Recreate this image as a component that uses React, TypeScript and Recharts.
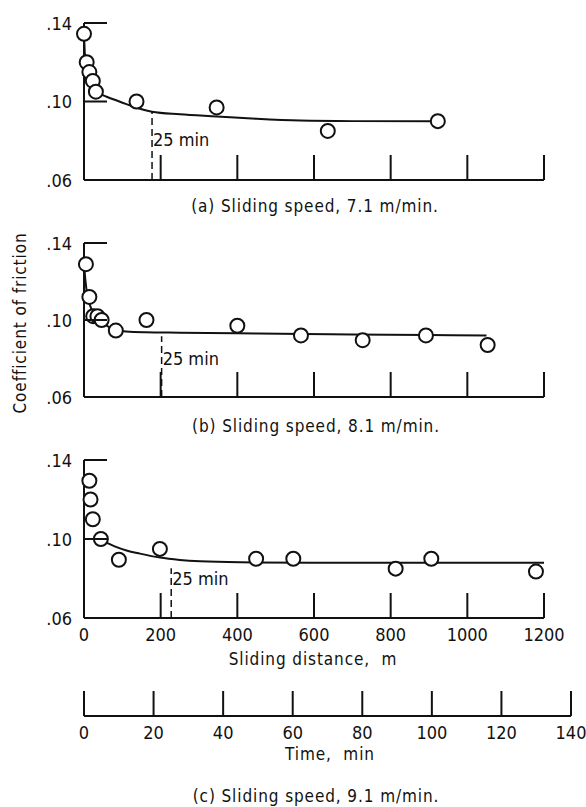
import { ComposedChart, Line, Scatter, XAxis, YAxis, ReferenceLine, ReferenceDot } from 'recharts'

const FONT = "'Liberation Sans Narrow', 'DejaVu Sans Condensed', sans-serif"
const INK = '#111'

const distanceTicks = [0, 200, 400, 600, 800, 1000, 1200]
const frictionTicks = [0.06, 0.1, 0.14]
const timeTicks = [0, 20, 40, 60, 80, 100, 120, 140]

// sliding speeds, m/min, for panels a, b, c
const speeds = [7.1, 8.1, 9.1]

// (a) measured points and faired curve
const distA = [0, 7, 14, 23, 31, 137, 346, 636, 923]
const muA = [0.1345, 0.12, 0.115, 0.1105, 0.105, 0.1, 0.097, 0.085, 0.09]
const curveDistA = [0, 2, 5, 10, 20, 35, 59, 94, 137, 177, 250, 346, 450, 564, 700, 922]
const curveMuA = [0.134, 0.125, 0.117, 0.111, 0.1065, 0.1045, 0.1024, 0.0999, 0.0968, 0.0948, 0.0935, 0.0924, 0.0912, 0.0903, 0.09, 0.0899]

// (b)
const distB = [5, 14, 24, 35, 46, 83, 163, 400, 566, 727, 892, 1053]
const muB = [0.129, 0.112, 0.102, 0.102, 0.1, 0.0945, 0.1, 0.097, 0.092, 0.0895, 0.092, 0.087]
const curveDistB = [0, 3, 7, 12, 20, 30, 45, 60, 83, 110, 160, 250, 400, 512, 700, 900, 1050]
const curveMuB = [0.129, 0.122, 0.115, 0.11, 0.1055, 0.102, 0.099, 0.097, 0.0948, 0.094, 0.0936, 0.0934, 0.0931, 0.0928, 0.0925, 0.0922, 0.0919]

// (c)
const distC = [14, 17, 23, 44, 91, 198, 449, 546, 813, 906, 1179]
const muC = [0.1295, 0.12, 0.11, 0.1, 0.0895, 0.095, 0.09, 0.09, 0.085, 0.09, 0.0835]
const curveDistC = [35, 60, 80, 111, 146, 198, 250, 303, 407, 600, 900, 1200]
const curveMuC = [0.1005, 0.098, 0.0963, 0.0942, 0.0926, 0.0906, 0.0894, 0.0887, 0.0882, 0.088, 0.088, 0.088]

// top of each dashed 25-min marker, and height of its label
const dashTops = [0.0948, 0.0915, 0.0852]
const markLabelY = [0.0805, 0.0798, 0.0797]

const zip = (xs: number[], ys: number[]) => xs.map((x, i) => ({ x, y: ys[i] }))

const XTick = (props: any) => {
  const { x, y, payload, showLabel, skipZero } = props
  return (
    <g>
      {!(skipZero && payload.value === 0) && (
        <line x1={x} x2={x} y1={y} y2={y - 25} stroke={INK} strokeWidth={2} />
      )}
      {showLabel && (
        <text x={x} y={y + 16} textAnchor="middle" dominantBaseline="central"
          fontFamily={FONT} fontSize={18} fill={INK}>
          {payload.value}
        </text>
      )}
    </g>
  )
}

const YTick = (props: any) => {
  const { x, y, payload } = props
  return (
    <g>
      {payload.value !== 0.06 && (
        <line x1={x} x2={x + 23} y1={y} y2={y} stroke={INK} strokeWidth={2} />
      )}
      <text x={x - 12} y={y} textAnchor="end" dominantBaseline="central"
        fontFamily={FONT} fontSize={18} fill={INK}>
        {payload.value.toFixed(2).replace(/^0/, '')}
      </text>
    </g>
  )
}

const Ring = (props: any) => (
  <circle cx={props.cx} cy={props.cy} r={7} fill="#fff" stroke={INK} strokeWidth={2} />
)

function Panel(props: {
  top: number; plotHeight: number; idx: number; showLabels: boolean
  points: { x: number; y: number }[]; curve: { x: number; y: number }[]
}) {
  const { top, plotHeight, idx, showLabels, points, curve } = props
  const axisH = showLabels ? 30 : 20
  const mark = speeds[idx] * 25
  return (
    <div style={{ position: 'absolute', left: 0, top }}>
      <ComposedChart width={586} height={23 + plotHeight + axisH}
        margin={{ top: 23, right: 42, bottom: 0, left: 0 }}>
        <XAxis type="number" dataKey="x" domain={[0, 1200]} ticks={distanceTicks} interval={0}
          height={axisH} tickSize={0} tickMargin={0} tickLine={false}
          axisLine={{ stroke: INK, strokeWidth: 2 }}
          tick={(p: any) => <XTick {...p} showLabel={showLabels} skipZero />} />
        <YAxis type="number" domain={[0.06, 0.14]} ticks={frictionTicks} interval={0} width={84}
          tickSize={0} tickMargin={0} tickLine={false}
          axisLine={{ stroke: INK, strokeWidth: 2 }} tick={YTick} />
        <ReferenceLine segment={[{ x: mark, y: 0.06 }, { x: mark, y: dashTops[idx] }]}
          stroke={INK} strokeWidth={1.5} strokeDasharray="7 4" />
        <ReferenceDot x={mark} y={markLabelY[idx]} r={0} stroke="none" fill="none"
          label={{ value: '25 min', position: 'right', offset: 1, fontSize: 18, fontFamily: FONT, fill: INK }} />
        <Line data={curve} dataKey="y" type="monotone" stroke={INK} strokeWidth={2}
          dot={false} isAnimationActive={false} />
        <Scatter data={points} dataKey="y" shape={Ring} isAnimationActive={false} />
      </ComposedChart>
    </div>
  )
}

const Caption = ({ x, y, size = 17, rotate = false, children }: any) => (
  <div style={{
    position: 'absolute', left: x, top: y, whiteSpace: 'pre',
    transform: `translate(-50%, -50%)${rotate ? ' rotate(-90deg)' : ''}`,
    fontFamily: FONT, fontSize: size, lineHeight: 1, color: INK, letterSpacing: 0.9,
  }}>{children}</div>
)

const timeData = timeTicks.map((t) => ({ x: t, y: 0 }))

export default function App() {
  return (
    <div style={{ position: 'absolute', left: 0, top: 0, width: 586, height: 807, background: '#fff' }}>
      <Panel top={0} plotHeight={157} idx={0} showLabels={false}
        points={zip(distA, muA)} curve={zip(curveDistA, curveMuA)} />
      <Caption x={315} y={206}>(a) Sliding speed, 7.1 m/min.</Caption>

      <Panel top={220} plotHeight={154} idx={1} showLabels={false}
        points={zip(distB, muB)} curve={zip(curveDistB, curveMuB)} />
      <Caption x={316} y={426}>(b) Sliding speed, 8.1 m/min.</Caption>

      <Panel top={437} plotHeight={158} idx={2} showLabels
        points={zip(distC, muC)} curve={zip(curveDistC, curveMuC)} />
      <Caption x={313} y={659}>Sliding distance,  m</Caption>

      <Caption x={20} y={323} rotate>Coefficient of friction</Caption>

      <div style={{ position: 'absolute', left: 0, top: 680 }}>
        <ComposedChart width={586} height={66} data={timeData}
          margin={{ top: 10, right: 15, bottom: 0, left: 84 }}>
          <XAxis type="number" dataKey="x" domain={[0, 140]} ticks={timeTicks} interval={0}
            height={30} tickSize={0} tickMargin={0} tickLine={false}
            axisLine={{ stroke: INK, strokeWidth: 2 }}
            tick={(p: any) => <XTick {...p} showLabel />} />
          <YAxis hide domain={[0, 1]} />
          <Line dataKey="y" stroke="none" dot={false} isAnimationActive={false} />
        </ComposedChart>
      </div>
      <Caption x={330} y={754}>Time,  min</Caption>
      <Caption x={316} y={796}>(c) Sliding speed, 9.1 m/min.</Caption>
    </div>
  )
}
